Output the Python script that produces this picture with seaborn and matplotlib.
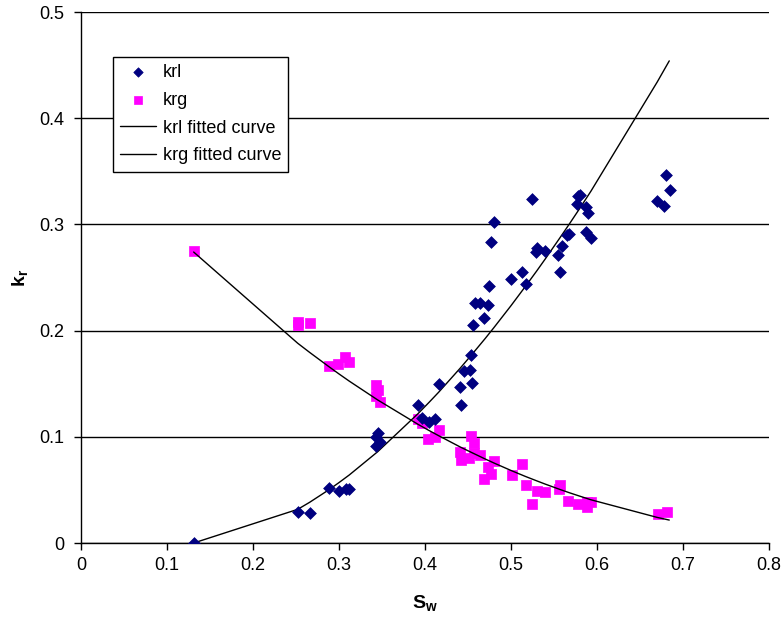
import matplotlib
matplotlib.use("Agg")
import matplotlib.pyplot as plt
import seaborn as sns
import pandas as pd

# Measured relative permeability to liquid (krl) vs water saturation
krl_sw = [0.131, 0.252, 0.266, 0.288, 0.300, 0.308, 0.312, 0.345, 0.343, 0.348,
          0.343, 0.392, 0.397, 0.405, 0.412, 0.416, 0.441, 0.442, 0.445, 0.452,
          0.454, 0.455, 0.456, 0.458, 0.464, 0.469, 0.473, 0.474, 0.477, 0.480,
          0.500, 0.513, 0.517, 0.524, 0.529, 0.530, 0.539, 0.555, 0.557, 0.559,
          0.565, 0.568, 0.577, 0.578, 0.580, 0.587, 0.587, 0.589, 0.593, 0.670,
          0.678, 0.680, 0.685]
krl_kr = [0.000, 0.029, 0.028, 0.052, 0.049, 0.051, 0.051, 0.104, 0.100, 0.095,
          0.091, 0.130, 0.118, 0.114, 0.117, 0.150, 0.147, 0.130, 0.162, 0.163,
          0.177, 0.151, 0.205, 0.226, 0.226, 0.212, 0.224, 0.242, 0.283, 0.302,
          0.249, 0.255, 0.244, 0.324, 0.274, 0.278, 0.275, 0.271, 0.255, 0.280,
          0.290, 0.291, 0.319, 0.327, 0.328, 0.293, 0.316, 0.311, 0.287, 0.322,
          0.317, 0.347, 0.332]

# Measured relative permeability to gas (krg)
krg_sw = [0.131, 0.252, 0.252, 0.266, 0.288, 0.299, 0.307, 0.312, 0.343, 0.345,
          0.343, 0.348, 0.392, 0.396, 0.416, 0.412, 0.404, 0.454, 0.457, 0.441,
          0.442, 0.451, 0.457, 0.464, 0.480, 0.473, 0.477, 0.469, 0.513, 0.501,
          0.517, 0.530, 0.539, 0.524, 0.557, 0.556, 0.566, 0.578, 0.588, 0.593,
          0.588, 0.671, 0.681]
krg_kr = [0.275, 0.208, 0.205, 0.207, 0.167, 0.169, 0.175, 0.170, 0.149, 0.144,
          0.138, 0.133, 0.117, 0.113, 0.106, 0.100, 0.098, 0.101, 0.094, 0.086,
          0.078, 0.080, 0.085, 0.083, 0.077, 0.072, 0.065, 0.060, 0.074, 0.064,
          0.055, 0.049, 0.048, 0.037, 0.055, 0.051, 0.040, 0.037, 0.039, 0.039,
          0.034, 0.027, 0.029]

# Fitted curves, evaluated at the measured saturations
fit_sw = [0.131, 0.252, 0.266, 0.288, 0.300, 0.312, 0.345, 0.392, 0.405, 0.416,
          0.441, 0.455, 0.470, 0.480, 0.500, 0.517, 0.530, 0.540, 0.558, 0.568,
          0.580, 0.593, 0.670, 0.684]
krl_fit = [0.000, 0.0317, 0.0384, 0.0500, 0.0569, 0.0641, 0.0860, 0.1219, 0.1327,
           0.1421, 0.1647, 0.1780, 0.1926, 0.2027, 0.2235, 0.2419, 0.2563, 0.2677,
           0.2887, 0.3006, 0.3152, 0.3314, 0.4341, 0.4540]
krg_fit = [0.274, 0.1881, 0.1794, 0.1662, 0.1592, 0.1524, 0.1347, 0.1117, 0.1058,
           0.1010, 0.0904, 0.0849, 0.0791, 0.0754, 0.0683, 0.0626, 0.0585, 0.0554,
           0.0501, 0.0473, 0.0441, 0.0407, 0.0241, 0.0216]

x_ticks = [0, 0.1, 0.2, 0.3, 0.4, 0.5, 0.6, 0.7, 0.8]
x_labels = ["0", "0.1", "0.2", "0.3", "0.4", "0.5", "0.6", "0.7", "0.8"]
y_ticks = [0, 0.1, 0.2, 0.3, 0.4, 0.5]
y_labels = ["0", "0.1", "0.2", "0.3", "0.4", "0.5"]

sns.set_style("white")
plt.rcParams["font.family"] = ["Liberation Sans", "DejaVu Sans"]
plt.rcParams["mathtext.fontset"] = "custom"
plt.rcParams["mathtext.rm"] = "Liberation Sans"
plt.rcParams["mathtext.bf"] = "Liberation Sans:bold"
plt.rcParams["text.color"] = "black"
plt.rcParams["axes.labelcolor"] = "black"
plt.rcParams["xtick.color"] = "black"
plt.rcParams["ytick.color"] = "black"

fig = plt.figure(figsize=(7.84, 6.23), dpi=100)
ax = fig.add_axes([0.1033, 0.1284, 0.8776, 0.8523])

df_l = pd.DataFrame({"Sw": krl_sw, "kr": krl_kr})
df_g = pd.DataFrame({"Sw": krg_sw, "kr": krg_kr})
df_fl = pd.DataFrame({"Sw": fit_sw, "kr": krl_fit})
df_fg = pd.DataFrame({"Sw": fit_sw, "kr": krg_fit})

# horizontal gridlines
for yv in y_ticks:
    ax.axhline(yv, color="black", lw=1.0, zorder=0)

sns.lineplot(data=df_fl, x="Sw", y="kr", ax=ax, color="black", lw=1.0,
             sort=False, estimator=None, label="krl fitted curve", zorder=3)
sns.lineplot(data=df_fg, x="Sw", y="kr", ax=ax, color="black", lw=1.0,
             sort=False, estimator=None, label="krg fitted curve", zorder=3)
sns.scatterplot(data=df_l, x="Sw", y="kr", ax=ax, marker="D", s=36,
                color="#000080", edgecolor="#000080", linewidth=0.5,
                label="krl", zorder=4)
sns.scatterplot(data=df_g, x="Sw", y="kr", ax=ax, marker="s", s=48,
                color="#FF00FF", edgecolor="#FF00FF", linewidth=0.5,
                label="krg", zorder=2)

ax.set_xlim(0, 0.8)
ax.set_ylim(0, 0.5)
ax.set_xticks(x_ticks)
ax.set_xticklabels(x_labels)
ax.set_yticks(y_ticks)
ax.set_yticklabels(y_labels)
ax.tick_params(axis="both", direction="out", length=5, width=1, color="black",
               labelcolor="black", labelsize=13, bottom=True, left=True)
ax.tick_params(axis="x", pad=5)
ax.tick_params(axis="y", pad=7)

for side in ["top", "right"]:
    ax.spines[side].set_visible(False)
for side in ["left", "bottom"]:
    ax.spines[side].set_color("black")
    ax.spines[side].set_linewidth(1.0)

ax.set_xlabel(r"$\mathbf{S_w}$", fontsize=14, labelpad=14, color="black")
ax.set_ylabel(r"$\mathbf{k_r}$", fontsize=14, labelpad=7, color="black")

handles, labels = ax.get_legend_handles_labels()
order = [labels.index(n) for n in ["krl", "krg", "krl fitted curve", "krg fitted curve"]]
leg = ax.legend([handles[i] for i in order], [labels[i] for i in order],
                loc="upper left", bbox_to_anchor=(0.0465, 0.916),
                borderaxespad=0, frameon=True, fancybox=False, fontsize=13,
                handlelength=2.0, handletextpad=0.35, borderpad=0.4,
                labelspacing=0.6, labelcolor="black", markerscale=0.8)
leg.get_frame().set_edgecolor("black")
leg.get_frame().set_linewidth(1.0)
leg.get_frame().set_alpha(1)

fig.savefig("out.png", dpi=100)
